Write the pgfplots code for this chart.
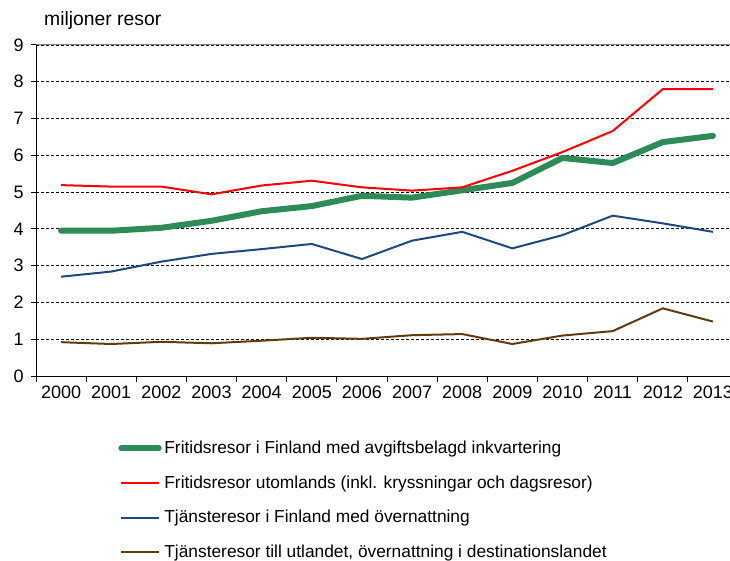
\documentclass[border=0pt]{standalone}
\usepackage{fontspec}
\setmainfont{Liberation Sans}
\usepackage{pgfplots}
\pgfplotsset{compat=1.18}
\definecolor{cgreen}{RGB}{46,139,87}
\definecolor{cred}{RGB}{255,0,0}
\definecolor{cblue}{RGB}{31,73,125}
\definecolor{cbrown}{RGB}{99,57,14}
\begin{document}
\begin{tikzpicture}
\begin{axis}[
  width=526.5pt, height=248.25pt, scale only axis,
  xmin=-0.5, xmax=13.5, ymin=0, ymax=9,
  axis x line*=bottom, axis y line*=left,
  axis line style={black, line width=0.75pt},
  xtick={0,...,13},
  xticklabels={2000,2001,2002,2003,2004,2005,2006,2007,2008,2009,2010,2011,2012,2013},
  minor xtick={-0.5,0.5,...,13.5},
  major x tick style={draw=none},
  minor x tick style={black, line width=0.75pt},
  minor tick length=4.5pt,
  major tick length=3.75pt,
  y tick style={black, line width=0.75pt},
  tick align=outside,
  ytick={0,...,9},
  yticklabel style={xshift=-2pt},
  ymajorgrids,
  major grid style={black, line width=0.6pt, dash pattern=on 2.25pt off 1.5pt},
  tick label style={font=\fontsize{13.5}{16}\selectfont},
  /pgf/number format/assume math mode=true,
  legend style={at={(axis description cs:0.117,-0.188)}, anchor=north west,
    draw=none, fill=none, font=\fontsize{13}{15.5}\selectfont,
    row sep=11pt, inner sep=0pt},
  legend cell align=left,
  legend image code/.code={\draw[#1] (0pt,0pt) -- (28pt,0pt);},
  clip=false,
]
\draw[gray, line width=0.75pt] (rel axis cs:0,1) -- (rel axis cs:1,1);
\node[anchor=base west, font=\fontsize{14.5}{17}\selectfont] at (axis description cs:0.005,1.06) {miljoner resor};

\addplot[cgreen, line width=4.5pt, line cap=round, line join=round] coordinates {
(0,3.95) (1,3.95) (2,4.03) (3,4.22) (4,4.48) (5,4.62) (6,4.90) (7,4.85) (8,5.05) (9,5.25) (10,5.93) (11,5.79) (12,6.36) (13,6.53)};
\addlegendentry{Fritidsresor i Finland med avgiftsbelagd inkvartering}
\addplot[cred, line width=1.5pt, line join=round] coordinates {
(0,5.19) (1,5.15) (2,5.15) (3,4.94) (4,5.18) (5,5.31) (6,5.13) (7,5.04) (8,5.13) (9,5.58) (10,6.09) (11,6.66) (12,7.80) (13,7.80)};
\addlegendentry{Fritidsresor utomlands (inkl. kryssningar och dagsresor)}
\addplot[cblue, line width=1.5pt, line join=round] coordinates {
(0,2.70) (1,2.84) (2,3.11) (3,3.32) (4,3.45) (5,3.59) (6,3.18) (7,3.68) (8,3.92) (9,3.47) (10,3.83) (11,4.36) (12,4.15) (13,3.92)};
\addlegendentry{Tjänsteresor i Finland med övernattning}
\addplot[cbrown, line width=1.5pt, line join=round] coordinates {
(0,0.92) (1,0.87) (2,0.93) (3,0.89) (4,0.96) (5,1.04) (6,1.01) (7,1.11) (8,1.14) (9,0.87) (10,1.10) (11,1.22) (12,1.84) (13,1.48)};
\addlegendentry{Tjänsteresor till utlandet, övernattning i destinationslandet}
\end{axis}
\pgfresetboundingbox
\path[use as bounding box] (-27pt,-138pt) rectangle (520.5pt,282pt);
\end{tikzpicture}
\end{document}
